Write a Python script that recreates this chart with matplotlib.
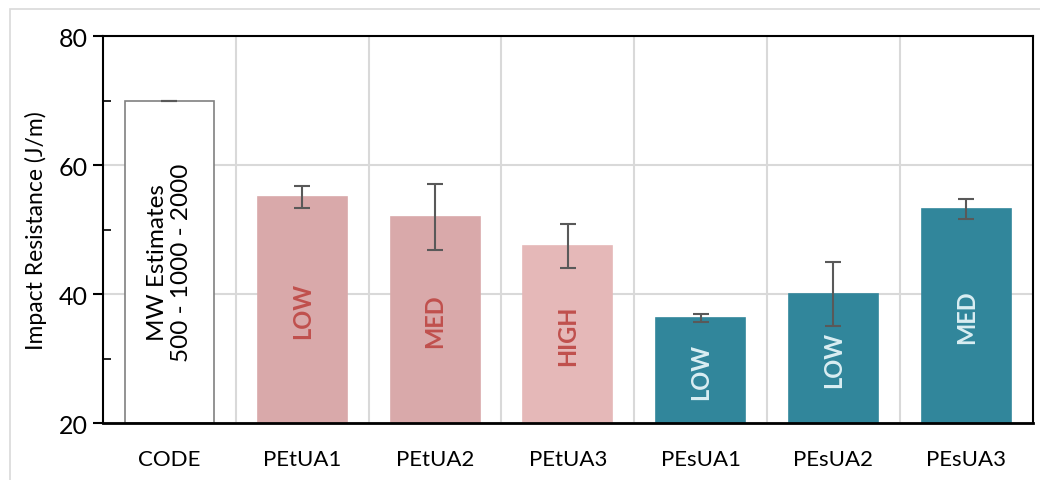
import numpy as np
import matplotlib.pyplot as plt
from matplotlib.patches import Rectangle
from matplotlib.ticker import MultipleLocator, FixedLocator

plt.rcParams['font.family'] = ['Lato', 'DejaVu Sans']

# data
samples = ['CODE', 'PEtUA1', 'PEtUA2', 'PEtUA3', 'PEsUA1', 'PEsUA2', 'PEsUA3']
impact = [70.0, 55.0, 52.0, 47.5, 36.3, 40.0, 53.2]
impact_err = [0.0, 1.7, 5.1, 3.4, 0.6, 5.0, 1.5]
mw_labels = ['MW Estimates\n500 - 1000 - 2000', 'LOW', 'MED', 'HIGH', 'LOW', 'LOW', 'MED']

fill = ['white', '#D9A9AA', '#D9A9AA', '#E5B8B8', '#31869B', '#31869B', '#31869B']
edge = ['#808080', '#D9A9AA', '#D9A9AA', '#E5B8B8', '#31869B', '#31869B', '#31869B']
txt_col = ['black', '#C0504D', '#C0504D', '#C0504D', '#DAEEF3', '#DAEEF3', '#DAEEF3']

fig = plt.figure(figsize=(10.4, 4.81), dpi=100)
ax = fig.add_axes([0.099, 0.1185, 0.894, 0.8045])

x = np.arange(len(samples))
ybase = 20
ax.bar(x, np.array(impact) - ybase, bottom=ybase, width=0.67, color=fill,
       edgecolor=edge, linewidth=1.2, zorder=2)
ax.errorbar(x, impact, yerr=impact_err, fmt='none', ecolor='#595959',
            elinewidth=1.5, capsize=6, capthick=1.5, zorder=3)

for i, lab in enumerate(mw_labels):
    mid = (ybase + impact[i]) / 2
    if i == 0:
        ax.text(x[i], mid, lab, rotation=90, ha='center', va='center',
                fontsize=17.5, color=txt_col[i], linespacing=1.15, zorder=4)
    else:
        ax.text(x[i], mid, lab, rotation=90, ha='center', va='center',
                fontsize=17, fontweight='bold', color=txt_col[i], zorder=4)

ax.set_xlim(-0.5, len(samples) - 0.5)
ax.set_ylim(20, 80)
ax.yaxis.set_major_locator(MultipleLocator(20))
ax.yaxis.set_minor_locator(MultipleLocator(10))
ax.set_xticks(x)
ax.set_xticklabels(samples, fontsize=16)
ax.xaxis.set_minor_locator(FixedLocator(np.arange(0.5, len(samples) - 0.5, 1)))
ax.tick_params(axis='x', which='both', length=0, pad=19)
ax.tick_params(axis='y', which='major', direction='out', length=7, width=1.5,
               labelsize=18, pad=4)
ax.tick_params(axis='y', which='minor', direction='in', length=6, width=1.2)
ax.set_ylabel('Impact Resistance (J/m)', fontsize=16.5, labelpad=8)

ax.grid(axis='y', which='major', color='#D9D9D9', linewidth=1.5, zorder=0)
ax.grid(axis='x', which='minor', color='#D9D9D9', linewidth=1.5, zorder=0)
ax.set_axisbelow(True)
for s in ax.spines.values():
    s.set_color('black')
    s.set_linewidth(1.5)
ax.spines['bottom'].set_linewidth(2)

fig.patches.append(Rectangle((10 / 1040, -0.01), 1.0, 1 - 10 / 481 + 0.01,
                             transform=fig.transFigure, fill=False,
                             edgecolor='#D9D9D9', linewidth=1.2))

fig.savefig('out.png', dpi=100)
